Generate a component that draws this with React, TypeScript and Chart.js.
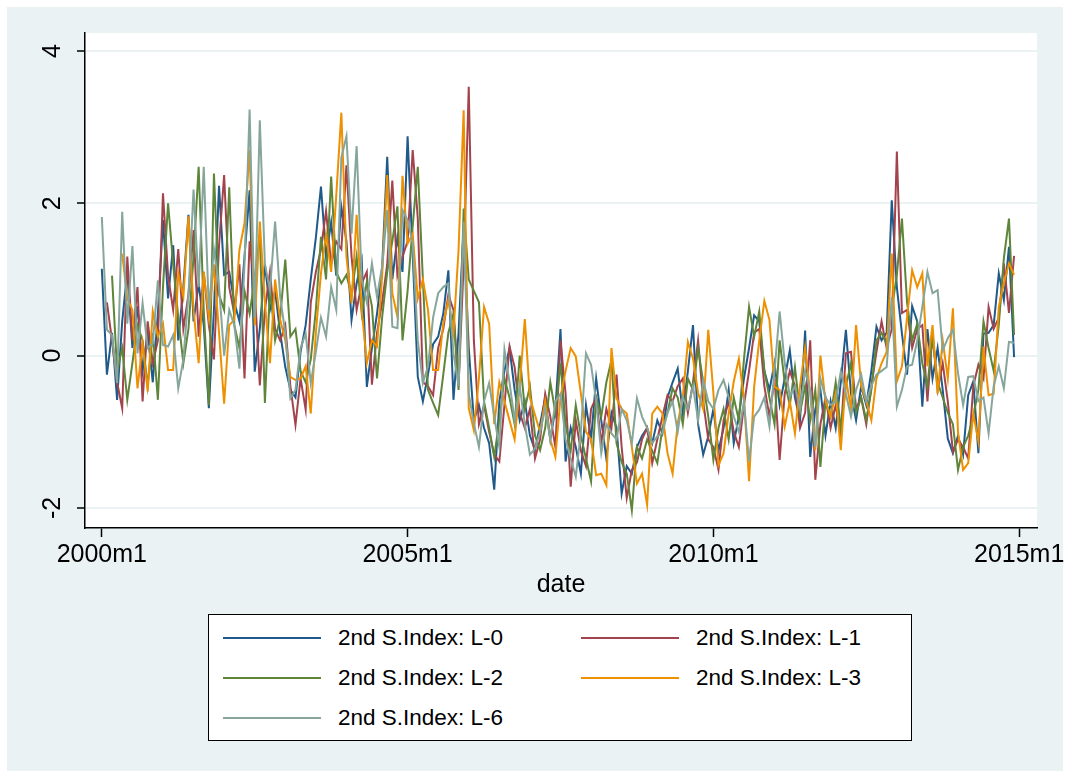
import React, { useEffect, useRef } from "react";
import { Chart, registerables } from "chart.js";

Chart.register(...registerables);

// Monthly observations, 2000m1 .. 2014m12 (index 0 = 2000m1)
const xTickIndex = [0, 60, 120, 180];
const xTickLabels = ["2000m1", "2005m1", "2010m1", "2015m1"];
const yTicks = [-2, 0, 2, 4];

const lag0 = [
  1.14, -0.25, 0.30, -0.58, 0.45, 1.10, 0.10, 0.65, -0.20, 0.30, -0.35, 0.55,
  1.78, 0.75, 1.45, 0.20, 0.90, 1.85, 0.45, 0.95, 0.40, -0.69, 0.60, 2.23,
  1.06, 1.10, 0.70, 0.45, 1.30, 2.17, -0.21, 0.35, 1.20, 0.60, 0.85, 0.30,
  -0.15, -0.45, -0.55, 0.05, 0.40, 1.00, 1.55, 2.22, 1.30, 1.75, 1.05, 1.95,
  1.50, 0.47, 0.95, 1.25, -0.41, 0.10, 0.55, 1.15, 2.61, 1.00, 1.55, 1.10,
  2.88, 1.33, -0.28, -0.60, -0.25, 0.15, 0.25, 0.55, 1.12, -0.58, 0.30, 1.70,
  0.10, -0.85, -0.65, -0.95, -1.15, -1.76, -0.60, -0.20, 0.10, -0.45, -0.85, -0.60,
  -1.05, -1.24, -0.90, -0.55, -1.10, -0.70, 0.35, -1.39, -0.95, -1.20, -1.55, -0.65,
  -1.10, -0.30, -0.85, -1.35, -0.75, -0.95, -1.81, -1.45, -1.55, -1.20, -1.05, -0.95,
  -1.15, -0.85, -1.02, -0.55, -0.35, -0.17, -0.75, -0.20, 0.40, -0.90, -1.30, -1.06,
  -0.70, -1.25, -0.95, -0.45, -1.15, -0.80, -0.30, 0.10, 0.53, 0.45, -0.20, -0.45,
  -0.10, -0.65, -0.30, 0.07, -0.55, -0.85, 0.33, -1.33, -0.70, -0.45, -1.05, -0.60,
  -0.95, -0.35, 0.34, -0.50, -0.85, -0.40, -0.65, -0.20, 0.38, 0.20, 0.30, 2.04,
  0.90, 0.29, -0.25, 0.65, 0.45, -0.67, 0.35, -0.30, 0.10, -0.45, -1.09, -1.28,
  -1.05, -1.30, -0.52, -0.34, -1.28, 0.29, 0.30, 0.40, 1.08, 0.73, 1.43, -0.02,
];

const lag1 = [
  null, 0.70, 0.20, -0.35, -0.69, 1.30, 0.20, 0.90, -0.60, 0.45, -0.10, 0.20,
  2.13, 1.05, 0.60, 1.40, 0.35, 0.80, 1.65, 0.25, 1.10, 0.40, -0.05, 1.45,
  2.37, 0.90, 0.55, 1.20, -0.30, 1.50, 0.90, -0.39, 0.60, 1.10, 0.35, 0.20,
  0.40, -0.40, -0.91, -0.30, -0.71, 0.70, 1.10, 1.40, 1.90, 1.20, 1.50, 1.40,
  2.50, 1.30, 0.60, 0.95, 1.10, -0.38, 0.30, 0.70, 1.20, 2.30, 1.05, 1.30,
  1.50, 2.70, 1.80, -0.35, -0.40, -0.52, 0.10, 0.35, 0.80, 0.60, -0.40, 1.20,
  3.53, 0.20, -0.90, -0.65, -1.00, -1.30, -1.39, -0.65, 0.12, -0.15, -0.75, -0.95,
  -0.70, -1.35, -1.10, -0.50, -0.80, -1.20, 0.20, -0.50, -1.72, -0.85, -1.25, -1.45,
  -0.70, -0.55, -1.15, -0.70, -0.95, -0.25, -1.20, -1.87, -1.50, -1.40, -1.10, -0.95,
  -1.41, -1.10, -0.80, -0.52, -0.60, -0.40, -0.30, -0.75, -0.35, 0.20, -0.60, -1.10,
  -1.20, -1.50, -0.85, -0.60, -1.00, -1.20, -0.65, -0.20, 0.30, 0.35, -0.40, -0.80,
  -0.30, -1.37, -0.50, -0.20, -0.40, -0.95, -0.75, 0.20, -1.63, -0.90, -0.55, -0.95,
  -0.65, -1.05, 0.03, 0.05, -0.70, -0.55, -0.90, -0.40, 0.05, 0.45, 0.10, 0.35,
  2.68, 0.56, 0.60, 0.10, 0.35, 0.40, -0.60, 0.30, -0.45, -0.10, -0.60, -1.26,
  -1.10, -1.20, -1.35, -0.40, -0.12, -0.30, 0.64, 0.35, 0.50, 1.21, 0.56, 1.31,
];

const lag2 = [
  null, null, 1.05, -0.20, 0.10, -0.58, -0.10, 0.40, 0.20, -0.40, 0.30, -0.58,
  0.90, 2.00, 1.20, 0.50, -0.10, 0.35, 1.30, 2.48, 0.60, -0.65, 2.39, 0.80,
  0.60, 2.21, 0.40, 0.10, 0.85, 0.55, 1.00, 1.60, -0.62, 0.90, 0.20, 0.50,
  1.26, 0.25, 0.35, -0.20, -0.35, -0.05, 0.60, 1.56, 1.00, 2.35, 1.10, 0.95,
  1.06, 0.80, 1.30, 0.55, 0.97, 0.65, -0.30, 0.50, 1.10, 1.50, 1.96, 0.20,
  0.85, 1.70, 2.48, 1.00, -0.45, -0.62, -0.78, -0.25, 0.30, 0.55, -0.45, 1.93,
  1.00, 0.85, 0.70, -0.60, -0.95, -1.33, -0.85, -0.30, -0.55, -0.90, 0.00, -0.70,
  -0.40, -1.05, -1.24, -0.95, -0.35, -0.75, -0.10, -0.90, -1.25, -0.65, -1.05, -1.35,
  -1.65, -0.55, -0.80, -0.35, -0.06, -1.15, -1.40, -1.55, -2.03, -1.20, -1.35, -1.10,
  -1.25, -1.41, -0.95, -0.75, -0.43, -0.55, -0.90, -0.30, -0.45, 0.10, -0.35, -0.80,
  -1.37, -0.95, -0.70, -1.10, -0.55, -0.85, -0.05, 0.64, 0.25, 0.58, -0.20, -0.55,
  -0.90, 0.20, -0.35, -0.65, -0.15, -0.75, -0.40, -0.85, -0.45, -1.46, -0.60, -0.80,
  -0.35, -0.95, -0.40, -0.10, -0.75, -0.55, -0.85, -0.45, 0.20, 0.30, 0.15, 0.60,
  1.06, 1.80, 0.70, 0.20, 0.42, -0.10, -0.40, 0.25, -0.35, -0.55, -0.75, -0.90,
  -1.50, -1.20, -1.05, -0.80, -0.45, 0.45, 0.10, -0.20, 0.40, 1.28, 1.80, 0.27,
];

const lag3 = [
  null, null, null, null, 1.34, 0.75, 0.60, -0.43, 0.16, -0.47, 0.58, 0.25,
  0.42, -0.19, -0.19, 1.08, 0.77, 1.83, 0.60, -0.10, 1.10, 0.50, 1.20, 0.30,
  -0.63, 0.40, 0.47, 1.39, 1.74, 2.70, 0.40, 1.76, 0.70, -0.10, 1.00, 0.47,
  0.20, -0.28, -0.32, -0.30, -0.14, -0.76, 0.30, 1.08, 1.60, 1.10, 2.10, 3.19,
  1.30, 0.69, 1.85, 0.60, -0.10, 0.20, 0.12, 1.04, 2.37, 0.82, 0.51, 2.36,
  1.47, 1.60, 0.75, 1.00, 0.60, -0.19, -0.19, 0.42, 0.73, 0.30, 1.39, 3.22,
  -0.69, -0.98, -0.30, 0.64, 0.42, -0.90, -0.35, -0.60, -0.85, -1.10, -0.40, 0.48,
  -0.55, -0.78, -1.00, -0.60, -1.10, -1.33, -0.55, -0.20, 0.10, -0.01, -0.50, -1.00,
  -1.10, -1.57, -1.55, -1.70, 0.10, -0.56, -0.70, -0.76, -1.20, -1.68, -1.55, -1.96,
  -0.76, -0.67, -0.76, -1.28, -1.55, -0.89, -0.54, 0.18, -0.04, -0.49, -0.70, 0.34,
  -0.49, -1.44, -1.28, -0.76, -0.34, -0.04, -0.56, -1.65, -0.41, 0.20, 0.72, 0.47,
  -0.41, -0.45, -0.93, -0.60, -1.02, -0.40, 0.10, -0.50, -1.24, 0.00, -0.60, -0.80,
  -0.50, -1.24, -0.30, -0.70, 0.40, -0.40, -0.60, -0.85, -0.30, -0.10, 0.05, 1.34,
  -0.34, -0.14, 0.50, 1.12, 0.90, 1.08, -0.14, 0.40, -0.50, 0.20, -0.30, 0.62,
  -1.00, -1.50, -1.41, -0.76, -1.13, 0.12, -0.52, -0.50, 0.64, 0.95, 1.21, 1.06,
];

const lag6 = [
  1.82, 0.34, 0.27, -0.36, 1.89, 0.42, 1.44, 0.03, 0.69, 0.10, 0.16, 0.99,
  0.14, 0.12, 0.27, -0.43, -0.05, 0.80, 2.18, 0.90, 2.48, 0.60, 1.40, 0.90,
  0.00, 0.60, 0.40, -0.17, 1.20, 3.23, 0.50, 3.09, 1.20, 0.86, 1.76, 0.77,
  0.30, -0.56, -0.45, 0.10, 0.29, -0.36, 0.05, 0.50, 0.25, 0.90, 0.60, 2.60,
  2.88, 1.60, 2.75, 1.00, 0.70, 1.21, 0.77, 1.17, 1.91, 0.38, 0.36, 1.91,
  1.78, 1.47, 0.20, -0.36, -0.14, 0.50, 0.82, 0.90, 0.95, 0.03, -0.40, 1.76,
  -0.50, -0.89, -1.20, -0.60, -0.36, -0.80, -1.20, 0.08, -0.35, -0.85, -0.40, -0.90,
  -1.30, -1.22, -1.00, -0.70, -1.10, -0.60, -0.50, -1.10, -1.35, -1.59, -1.00, 0.03,
  -0.12, -0.60, -1.28, -0.90, -1.02, -1.10, -0.70, -0.85, -1.15, -0.56, -0.80, -0.95,
  -1.15, -1.06, -1.02, -0.75, -0.60, -1.00, -0.55, -0.70, -0.40, -0.85, -0.32, -0.60,
  -0.70, -0.45, -0.32, -0.55, -0.80, -1.00, -0.60, -1.39, -0.80, -0.71, -0.55, -0.93,
  -0.20, 0.58, -0.10, -0.54, -0.40, -0.70, -0.20, -0.45, -1.20, -0.30, -0.55, -0.65,
  -0.60, -0.21, -0.50, -0.80, -0.45, -0.25, -0.60, -0.40, -0.25, -0.20, -0.15, 0.77,
  -0.67, -0.45, -0.14, -0.12, 0.20, 0.64, 1.10, 0.82, 0.86, 0.07, 0.23, 0.34,
  -0.23, -0.65, -0.28, -0.27, -0.60, -0.55, -1.02, -0.40, -0.14, -0.43, 0.18, 0.17,
];

const seriesNames = [
  "2nd S.Index: L-0",
  "2nd S.Index: L-1",
  "2nd S.Index: L-2",
  "2nd S.Index: L-3",
  "2nd S.Index: L-6",
];
const seriesValues = [lag0, lag1, lag2, lag3, lag6];
const seriesColors = ["#1F5A8A", "#A3434C", "#5E8539", "#EE9000", "#86A69C"];

const FONT_FAMILY = "'Liberation Sans', Arial, Helvetica, sans-serif";
const PAGE_BG = "#EAF2F3";
const GRID_COLOR = "#EAF2F3";

// white plot region behind the lines
const plotBackground = {
  id: "plotBackground",
  beforeDraw(chart: any) {
    const { ctx, chartArea } = chart;
    ctx.save();
    ctx.fillStyle = "#ffffff";
    ctx.fillRect(
      chartArea.left,
      chartArea.top,
      chartArea.right - chartArea.left,
      chartArea.bottom - chartArea.top
    );
    ctx.restore();
  },
};

function SeriesChart() {
  const canvasRef = useRef<HTMLCanvasElement | null>(null);

  useEffect(() => {
    const canvas = canvasRef.current;
    if (!canvas) return;
    const font = { family: FONT_FAMILY, size: 25 };
    const chart = new Chart(canvas, {
      type: "line",
      data: {
        datasets: seriesValues.map((values, k) => ({
          label: seriesNames[k],
          data: values.map((v, i) => ({ x: i, y: v })),
          borderColor: seriesColors[k],
          backgroundColor: seriesColors[k],
          borderWidth: 2,
          pointRadius: 0,
          tension: 0,
          fill: false,
          spanGaps: false,
          order: seriesValues.length - k,
        })),
      },
      options: {
        animation: false,
        responsive: false,
        events: [],
        layout: { padding: { left: 0, top: 33, right: 31, bottom: 0 } },
        plugins: {
          legend: { display: false },
          tooltip: { enabled: false },
        },
        scales: {
          x: {
            type: "linear",
            min: -3.3,
            max: 183.5,
            afterBuildTicks: (scale: any) => {
              scale.ticks = xTickIndex.map((v) => ({ value: v }));
            },
            afterFit: (scale: any) => {
              scale.height = 92;
            },
            ticks: {
              autoSkip: false,
              maxRotation: 0,
              minRotation: 0,
              padding: 3,
              color: "#000",
              font,
              callback: (value: any) => {
                const k = xTickIndex.indexOf(Number(value));
                return k >= 0 ? xTickLabels[k] : "";
              },
            },
            grid: {
              drawOnChartArea: false,
              drawTicks: true,
              tickLength: 9,
              tickColor: "#000",
              tickWidth: 1.5,
            },
            border: { display: true, color: "#000", width: 1.5 },
            title: {
              display: true,
              text: "date",
              color: "#000",
              font,
              padding: { top: 0, bottom: 20 },
            },
          },
          y: {
            type: "linear",
            min: -2.263,
            max: 4.236,
            afterBuildTicks: (scale: any) => {
              scale.ticks = yTicks.map((v) => ({ value: v }));
            },
            afterFit: (scale: any) => {
              scale.width = 85;
            },
            ticks: {
              minRotation: 90,
              maxRotation: 90,
              crossAlign: "center",
              padding: 13,
              color: "#000",
              font,
            },
            grid: {
              color: GRID_COLOR,
              lineWidth: 2,
              drawTicks: true,
              tickLength: 8,
              tickColor: "#000",
              tickWidth: 1.5,
            },
            border: { display: true, color: "#000", width: 1.5 },
          },
        },
      } as any,
      plugins: [plotBackground],
    });
    return () => chart.destroy();
  }, []);

  return (
    <canvas
      ref={canvasRef}
      width={1068}
      height={620}
      style={{ position: "absolute", left: 0, top: 0, width: 1068, height: 620 }}
    />
  );
}

function Legend() {
  const rows = [
    [0, 1],
    [2, 3],
    [4],
  ];
  const colLine = [14, 372];
  const colText = [129, 487];
  const rowCenter = [23, 63, 103];
  return (
    <div
      style={{
        position: "absolute",
        left: 208,
        top: 614,
        width: 702,
        height: 125,
        border: "1px solid #000",
        background: "#fff",
        fontFamily: FONT_FAMILY,
        fontSize: 22.5,
        color: "#000",
      }}
    >
      {rows.map((row, r) =>
        row.map((k, c) => (
          <React.Fragment key={k}>
            <div
              style={{
                position: "absolute",
                left: colLine[c],
                top: rowCenter[r] - 1,
                width: 98,
                height: 2,
                background: seriesColors[k],
              }}
            />
            <div
              style={{
                position: "absolute",
                left: colText[c],
                top: rowCenter[r] - 15,
                height: 30,
                lineHeight: "30px",
                whiteSpace: "nowrap",
              }}
            >
              {seriesNames[k]}
            </div>
          </React.Fragment>
        ))
      )}
    </div>
  );
}

export default function App() {
  return (
    <div
      style={{
        position: "absolute",
        left: 0,
        top: 0,
        width: 1068,
        height: 771,
        background: "#fff",
        overflow: "hidden",
      }}
    >
      <div
        style={{
          position: "absolute",
          left: 7,
          top: 7,
          width: 1056,
          height: 764,
          background: PAGE_BG,
        }}
      />
      <SeriesChart />
      <Legend />
    </div>
  );
}
